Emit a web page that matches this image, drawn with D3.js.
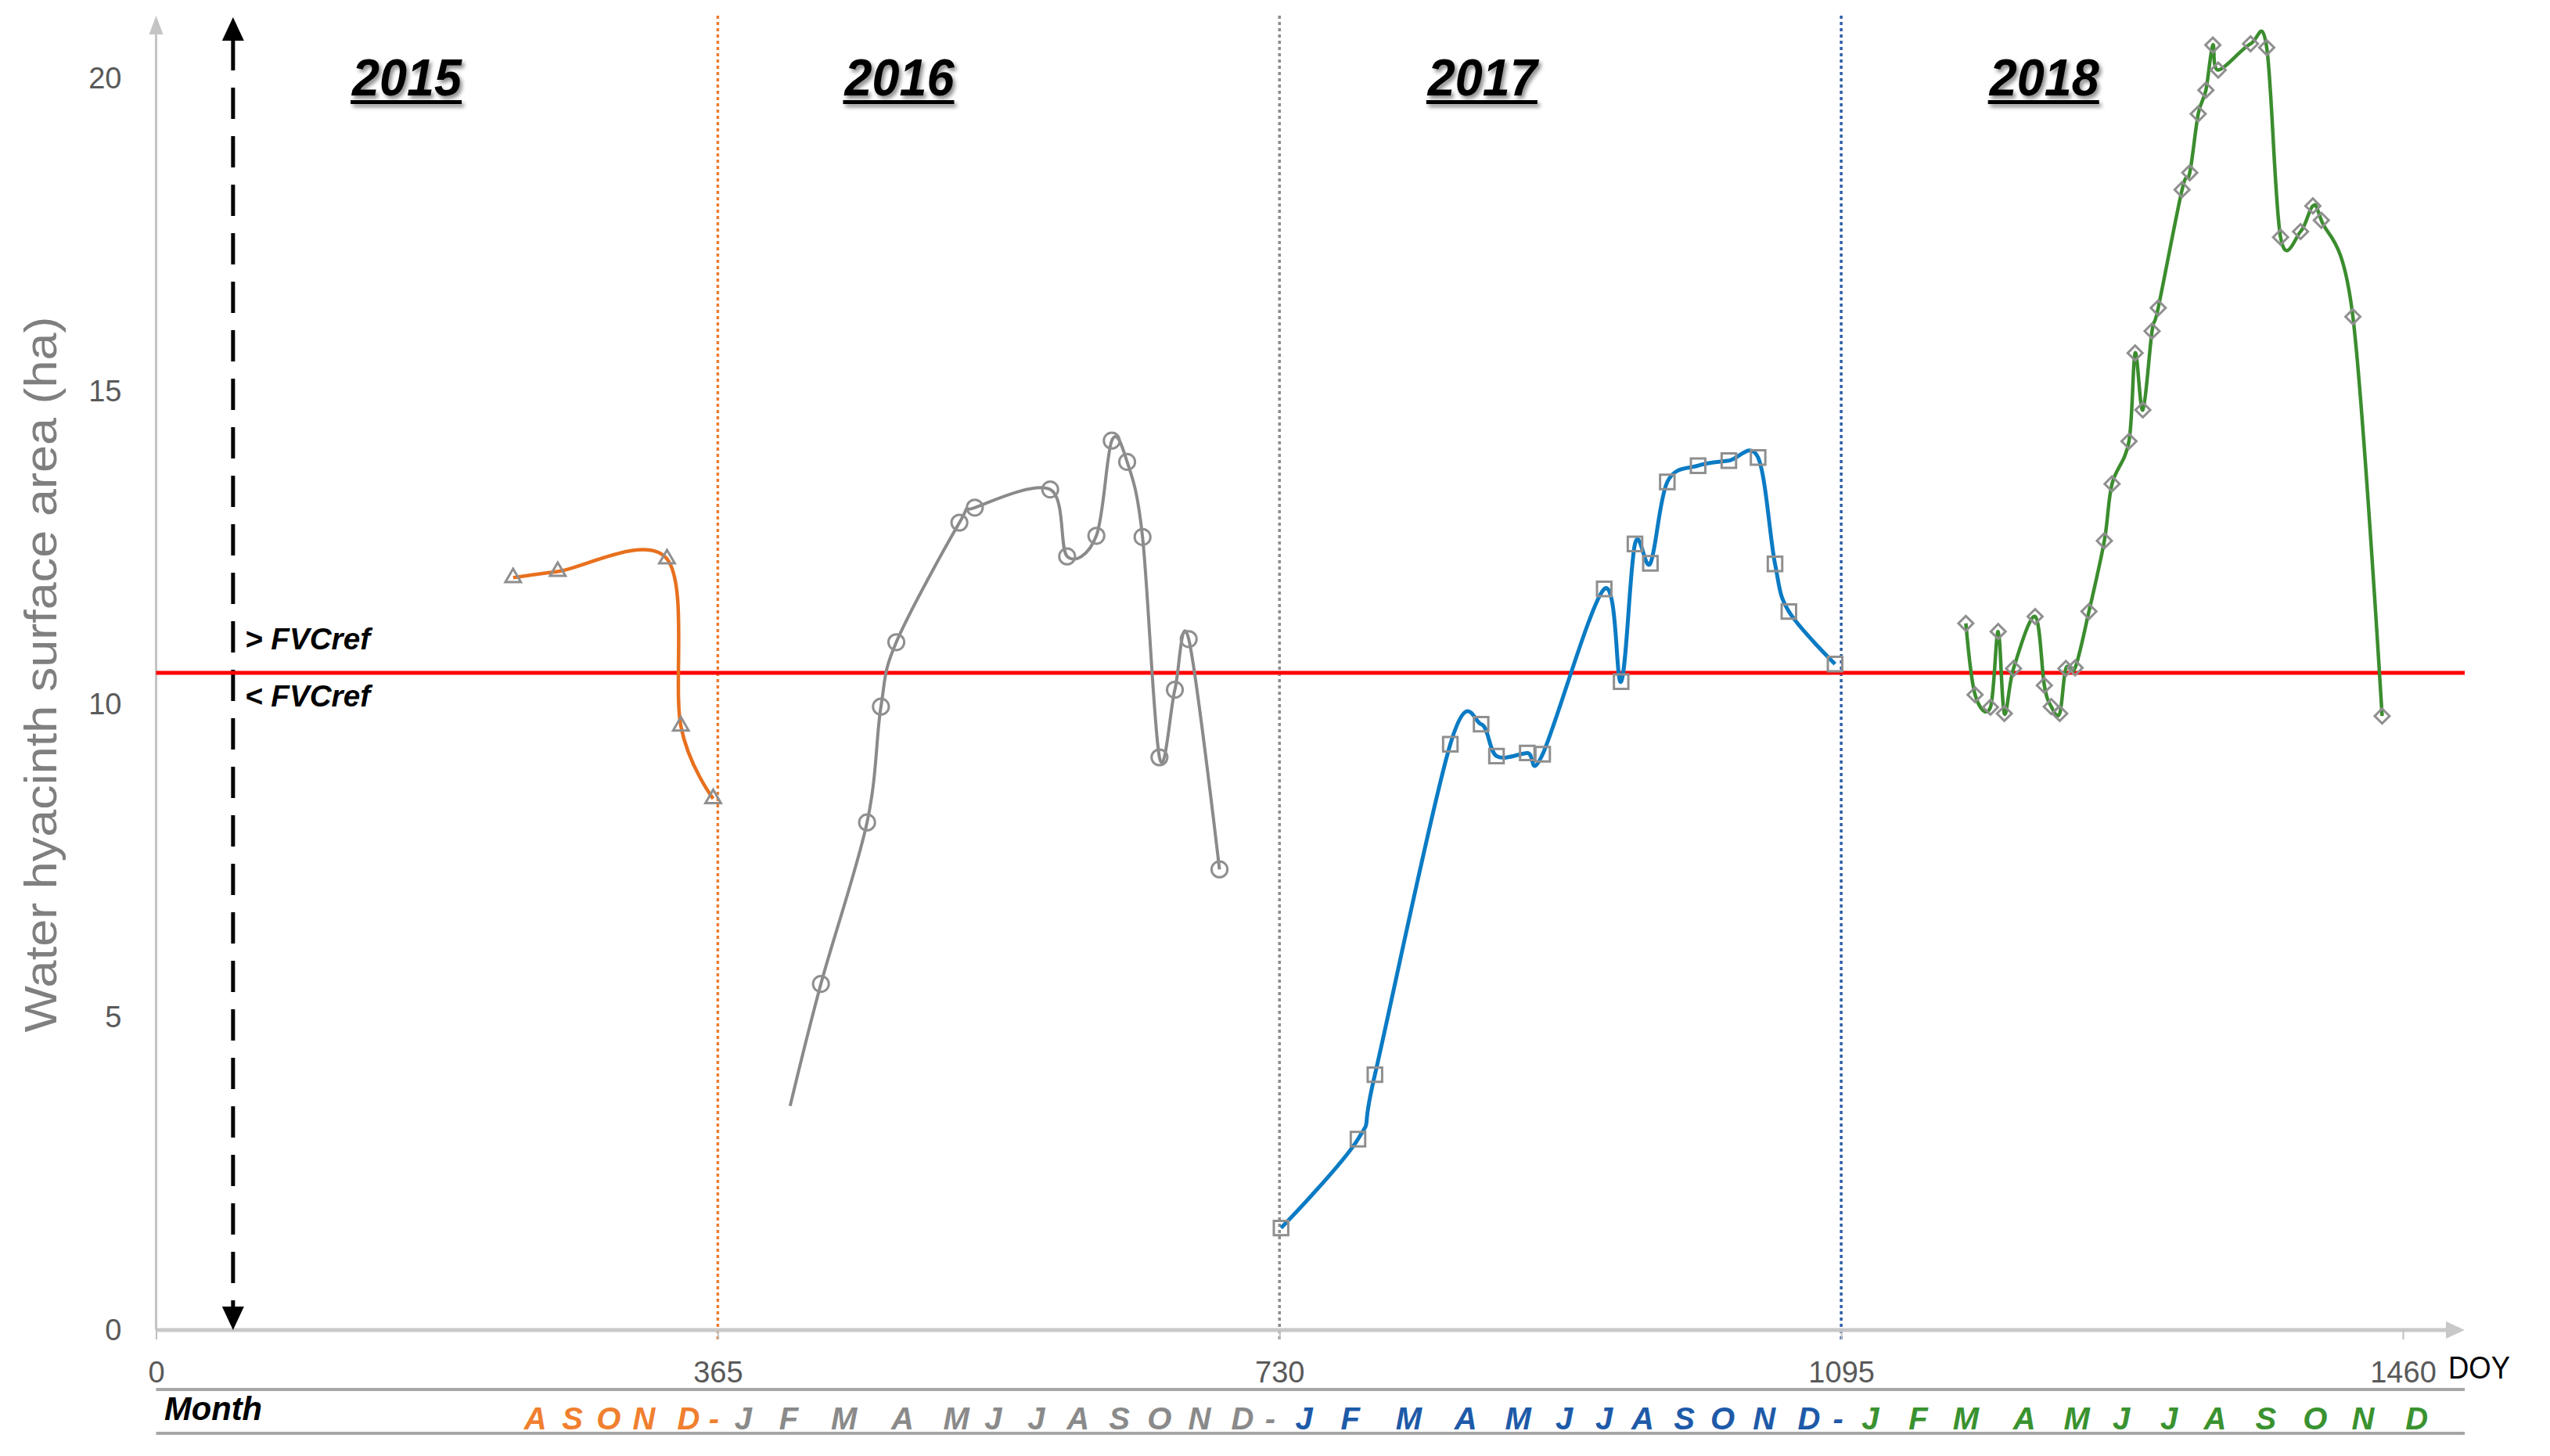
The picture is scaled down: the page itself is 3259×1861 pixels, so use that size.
<!DOCTYPE html>
<html>
<head>
<meta charset="utf-8">
<script src="https://d3js.org/d3.v7.min.js"></script>
<style>
  body { margin: 0; background: #fff; }
  svg text { font-family: "Liberation Sans Narrow", "Liberation Sans", Arial, sans-serif; }
</style>
</head>
<body>
<svg id="chart" width="3259" height="1861"></svg>
<script>
// DOY counted from 1 Jan 2015, surface area in ha
const doy2015 = [232, 261, 332, 341, 362];
const ha2015  = [12.02, 12.12, 12.32, 9.65, 8.49];

const doy2016 = [412, 432, 462, 471, 481, 522, 532, 581, 592, 611, 621, 631, 641, 652, 662, 671, 691];
const ha2016  = [3.58, 5.53, 8.11, 9.96, 10.99, 12.90, 13.14, 13.43, 12.36, 12.69, 14.21, 13.87, 12.67, 9.15, 10.23, 11.04, 7.36];

const doy2017 = [731, 781, 792, 841, 861, 871, 891, 901, 941, 952, 961, 971, 982, 1002, 1022, 1041, 1052, 1061, 1091];
const ha2017  = [1.63, 3.05, 4.08, 9.36, 9.68, 9.17, 9.22, 9.20, 11.84, 10.36, 12.56, 12.25, 13.55, 13.81, 13.89, 13.94, 12.24, 11.48, 10.64];

const doy2018 = [1176, 1182, 1192, 1197, 1201, 1207, 1221, 1227, 1231.5, 1237, 1241, 1247, 1256, 1266, 1271, 1282, 1286, 1291, 1297, 1301,
                 1316.5, 1321.5, 1327, 1332, 1336.5, 1340, 1361, 1371.5, 1380.5, 1393.5, 1401.5, 1407, 1427.5, 1446.5];
const ha2018  = [11.29, 10.15, 9.95, 11.16, 9.85, 10.57, 11.40, 10.30, 9.96, 9.85, 10.57, 10.58, 11.48, 12.61, 13.52, 14.20, 15.61, 14.70, 15.96, 16.33,
                 18.22, 18.49, 19.43, 19.81, 20.53, 20.13, 20.55, 20.49, 17.46, 17.55, 17.96, 17.73, 16.19, 9.81];

const fvcRef = 10.5;
const xTicks = [0, 365, 730, 1095, 1460];
const yTicks = [0, 5, 10, 15, 20];
const yearBreaks = [365, 730, 1095];
const yearNames = ["2015", "2016", "2017", "2018"];
const yearLabelDoy = [163, 483, 862, 1227];

const months2015 = ["A", "S", "O", "N", "D", "-"];
const monthDoy2015 = [246.5, 270.5, 294, 317, 346, 362.5];
const months2016 = ["J", "F", "M", "A", "M", "J", "J", "A", "S", "O", "N", "D", "-"];
const monthDoy2016 = [381.5, 411, 447, 485, 520, 544, 572, 599, 626, 652, 678, 706, 724];
const months2017 = ["J", "F", "M", "A", "M", "J", "J", "A", "S", "O", "N", "D", "-"];
const monthDoy2017 = [746, 776, 814, 851, 885, 915, 941, 966, 993, 1018, 1045, 1074, 1093];
const months2018 = ["J", "F", "M", "A", "M", "J", "J", "A", "S", "O", "N", "D"];
const monthDoy2018 = [1114, 1145, 1176, 1214, 1248, 1277, 1308, 1338, 1371, 1403, 1434, 1469];

const svg = d3.select('svg#chart');
const x = d3.scaleLinear().domain([0, 1460]).range([199.5, 3071]);
const y = d3.scaleLinear().domain([0, 20]).range([1700, 100]);
const xEnd = 3150;

const defs = svg.append('defs');
const shadow = defs.append('filter').attr('id', 'shadow')
    .attr('x', '-20%').attr('y', '-20%').attr('width', '140%').attr('height', '150%');
shadow.append('feDropShadow').attr('dx', 3).attr('dy', 4).attr('stdDeviation', 2.5)
    .attr('flood-color', '#000').attr('flood-opacity', 0.45);

// year dividers (dotted)
const dividerColors = ['#ed7d31', '#8c8c8c', '#2f5fa7'];
yearBreaks.forEach((d, i) => {
    svg.append('line')
        .attr('x1', x(d)).attr('x2', x(d))
        .attr('y1', 20).attr('y2', y(0) + 12)
        .attr('stroke', dividerColors[i])
        .attr('stroke-width', 3.5)
        .attr('stroke-dasharray', '4,4');
});

// axes lines with arrowheads
svg.append('line')
    .attr('x1', x(0)).attr('x2', xEnd - 20)
    .attr('y1', y(0)).attr('y2', y(0))
    .attr('stroke', '#c8c8c8').attr('stroke-width', 5);
svg.append('path')
    .attr('d', `M${xEnd},${y(0)} L${xEnd - 24},${y(0) - 11} L${xEnd - 24},${y(0) + 11} Z`)
    .attr('fill', '#c8c8c8');
svg.append('line')
    .attr('x1', x(0)).attr('x2', x(0))
    .attr('y1', y(0)).attr('y2', 40)
    .attr('stroke', '#c4c4c4').attr('stroke-width', 3);
svg.append('path')
    .attr('d', `M${x(0)},20 L${x(0) - 9},44 L${x(0) + 9},44 Z`)
    .attr('fill', '#c4c4c4');

// x axis labels
const xAxis = d3.axisBottom(x).tickValues(xTicks).tickFormat(d3.format('d')).tickSize(12).tickPadding(28);
const gx = svg.append('g').attr('transform', `translate(0,${y(0)})`).call(xAxis);
gx.select('.domain').remove();
gx.selectAll('line').attr('stroke', '#bfbfbf').attr('stroke-width', 2);
gx.selectAll('text').attr('fill', '#595959').style('font-size', '38px');

// y axis labels
const yAxis = d3.axisLeft(y).tickValues(yTicks).tickSize(0).tickPadding(44);
const gy = svg.append('g').attr('transform', `translate(${x(0)},0)`).call(yAxis);
gy.select('.domain').remove();
gy.selectAll('text').attr('fill', '#595959').style('font-size', '38px');

svg.append('text')
    .attr('transform', `translate(72,862) rotate(-90)`)
    .attr('text-anchor', 'middle')
    .attr('fill', '#7f7f7f')
    .attr('textLength', 915).attr('lengthAdjust', 'spacingAndGlyphs')
    .style('font-size', '58px')
    .text('Water hyacinth surface area (ha)');

svg.append('text')
    .attr('x', 3129).attr('y', 1762)
    .attr('fill', '#000')
    .attr('textLength', 79).attr('lengthAdjust', 'spacingAndGlyphs')
    .style('font-size', '40px')
    .text('DOY');

// dashed double arrow
const ax = x(50);
svg.append('line')
    .attr('x1', ax).attr('x2', ax)
    .attr('y1', 50).attr('y2', y(0) - 28)
    .attr('stroke', '#000').attr('stroke-width', 5)
    .attr('stroke-dasharray', '40,22');
svg.append('path')
    .attr('d', `M${ax},22 L${ax - 14},52 L${ax + 14},52 Z`).attr('fill', '#000');
svg.append('path')
    .attr('d', `M${ax},${y(0)} L${ax - 14},${y(0) - 30} L${ax + 14},${y(0) - 30} Z`).attr('fill', '#000');

// threshold
svg.append('line')
    .attr('x1', x(0)).attr('x2', xEnd)
    .attr('y1', y(fvcRef)).attr('y2', y(fvcRef))
    .attr('stroke', '#ff0000').attr('stroke-width', 5);
svg.append('text')
    .attr('x', 313).attr('y', 830)
    .attr('textLength', 160).attr('lengthAdjust', 'spacingAndGlyphs')
    .style('font-size', '38px').style('font-weight', 'bold').style('font-style', 'italic')
    .text('> FVCref');
svg.append('text')
    .attr('x', 313).attr('y', 903)
    .attr('textLength', 160).attr('lengthAdjust', 'spacingAndGlyphs')
    .style('font-size', '38px').style('font-weight', 'bold').style('font-style', 'italic')
    .text('< FVCref');

// year titles
yearNames.forEach((name, i) => {
    const cx = x(yearLabelDoy[i]);
    const g = svg.append('g').attr('filter', 'url(#shadow)');
    g.append('text')
        .attr('x', cx).attr('y', 122)
        .attr('text-anchor', 'middle')
        .attr('textLength', 140).attr('lengthAdjust', 'spacingAndGlyphs')
        .style('font-size', '66px').style('font-weight', 'bold').style('font-style', 'italic')
        .text(name);
    g.append('rect')
        .attr('x', cx - 72).attr('y', 128)
        .attr('width', 142).attr('height', 5)
        .attr('fill', '#000');
});

// series
const series = [
    {doy: doy2015, ha: ha2015, color: '#e8701e', width: 4.5, symbol: 'triangle', skip: 0},
    {doy: doy2016, ha: ha2016, color: '#8a8a8a', width: 4, symbol: 'circle', skip: 1},
    {doy: doy2017, ha: ha2017, color: '#0b7bc4', width: 5, symbol: 'square', skip: 0},
    {doy: doy2018, ha: ha2018, color: '#3b8d2e', width: 4.5, symbol: 'diamond', skip: 0}
];

const line = d3.line()
    .x(d => x(d[0]))
    .y(d => y(d[1]))
    .curve(d3.curveCatmullRom.alpha(0));

const symbols = {
    triangle: d3.symbol().type(d3.symbolTriangle).size(170),
    circle: d3.symbol().type(d3.symbolCircle).size(320),
    square: d3.symbol().type(d3.symbolSquare).size(340),
    diamond: d3.symbol().type(d3.symbolSquare).size(180)
};

series.forEach(s => {
    const pts = s.doy.map((d, i) => [d, s.ha[i]]);
    svg.append('path')
        .attr('d', line(pts))
        .attr('fill', 'none')
        .attr('stroke', s.color)
        .attr('stroke-width', s.width);
    pts.slice(s.skip).forEach(p => {
        svg.append('path')
            .attr('d', symbols[s.symbol]())
            .attr('transform', `translate(${x(p[0])},${y(p[1])})` + (s.symbol === 'diamond' ? ' rotate(45)' : ''))
            .attr('fill', 'none')
            .attr('stroke', '#8f8f8f')
            .attr('stroke-width', 3);
    });
});

// month row
[1776, 1832].forEach(ly => {
    svg.append('line')
        .attr('x1', x(0)).attr('x2', xEnd)
        .attr('y1', ly).attr('y2', ly)
        .attr('stroke', '#a6a6a6').attr('stroke-width', 4);
});
svg.append('text')
    .attr('x', 210).attr('y', 1815)
    .attr('textLength', 125).attr('lengthAdjust', 'spacingAndGlyphs')
    .style('font-size', '42px').style('font-weight', 'bold').style('font-style', 'italic')
    .text('Month');

const monthRows = [
    {labels: months2015, doy: monthDoy2015, color: '#f07f2f'},
    {labels: months2016, doy: monthDoy2016, color: '#8a8a8a'},
    {labels: months2017, doy: monthDoy2017, color: '#1e5aa8'},
    {labels: months2018, doy: monthDoy2018, color: '#3a9230'}
];
monthRows.forEach(r => {
    r.labels.forEach((m, i) => {
        svg.append('text')
            .attr('x', x(r.doy[i])).attr('y', 1827)
            .attr('text-anchor', 'middle')
            .attr('fill', r.color)
            .style('font-size', '40px').style('font-weight', 'bold').style('font-style', 'italic')
            .text(m);
    });
});
</script>
</body>
</html>
